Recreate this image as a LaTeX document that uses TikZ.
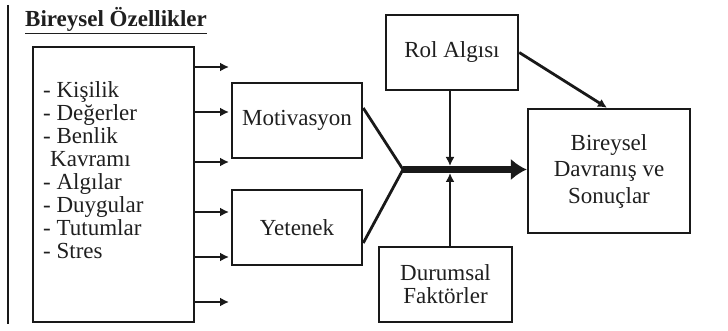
\documentclass[tikz,border=0pt]{standalone}
\usepackage{fontspec}
\setmainfont{Liberation Serif}
\usetikzlibrary{arrows.meta}
\begin{document}
\begin{tikzpicture}[x=1pt,y=-1pt,
  every node/.style={text=black!88, font=\fontsize{23}{23}\selectfont},
  boxnode/.style={draw=black!90, line width=2.5pt, inner sep=0pt},
  item/.style={anchor=base west, inner sep=0pt},
  conn/.style={draw=black!90, line width=2.8pt},
  arr/.style={conn, -{Latex[length=9pt,width=9pt]}},
  bigarr/.style={draw=black!90, line width=7pt, -{Latex[length=16pt,width=22pt]}}]
\useasboundingbox (0,0) rectangle (728,331);
% left bar
\coordinate (bartop) at (8,5);
\coordinate (barbot) at (8,324);
\draw[draw=black!90, line width=2.8pt] (bartop) -- (barbot);
% title
\node[anchor=base west, inner sep=0pt, font=\fontsize{23}{23}\selectfont\bfseries] (title) at (25,27) {\underline{Bireysel Özellikler}};
% left box
\node[boxnode, minimum width=161pt, minimum height=275pt] (lbox) at (113.5,184.5) {};
\node[item] (l1) at (43,97.5) {- Kişilik};
\node[item] (l2) at (43,120.5) {- Değerler};
\node[item] (l3) at (43,143.5) {- Benlik};
\node[item] (l4) at (50,166.5) {Kavramı};
\node[item] (l5) at (43,189.5) {- Algılar};
\node[item] (l6) at (43,212.5) {- Duygular};
\node[item] (l7) at (43,235.5) {- Tutumlar};
\node[item] (l8) at (43,258.5) {- Stres};
% output arrows from left box
\foreach \i/\yy in {1/67,2/112,3/162,4/212,5/257,6/302}{
  \coordinate (t\i) at (229,\yy);
  \draw[arr] (lbox.east |- t\i) -- (t\i);
}
% middle boxes
\node[boxnode, minimum width=130pt, minimum height=75pt] (mot) at (297,120.5) {Motivasyon};
\node[boxnode, minimum width=130pt, minimum height=75pt] (yet) at (297,227.5) {Yetenek};
\node[boxnode, minimum width=132pt, minimum height=75pt] (rol) at (452,52.5) {Rol Algısı};
\node[boxnode, minimum width=133pt, minimum height=75pt, align=center,
  font=\fontsize{23}{23}\selectfont] (dur) at (445.5,284.5) {Durumsal\\Faktörler};
\node[boxnode, minimum width=162pt, minimum height=124pt, align=center,
  font=\fontsize{23}{26.5}\selectfont] (bir) at (609,171) {Bireysel\\Davranış ve\\Sonuçlar};
% junction
\coordinate (j) at (403,169.5);
\coordinate (m) at (450,169.5);
\coordinate (mt) at (450,166);
\coordinate (mb) at (450,173);
\draw[conn] ([yshift=12.5pt]mot.east) -- (j);
\draw[conn] ([yshift=-15.5pt]yet.east) -- (j);
\draw[bigarr] (j) -- (bir.west |- j);
\draw[arr] (rol.south -| m) -- (mt);
\draw[arr] (dur.north -| m) -- (mb);
\draw[arr] (rol.east) -- ([xshift=-2pt]bir.north);
\end{tikzpicture}
\end{document}
